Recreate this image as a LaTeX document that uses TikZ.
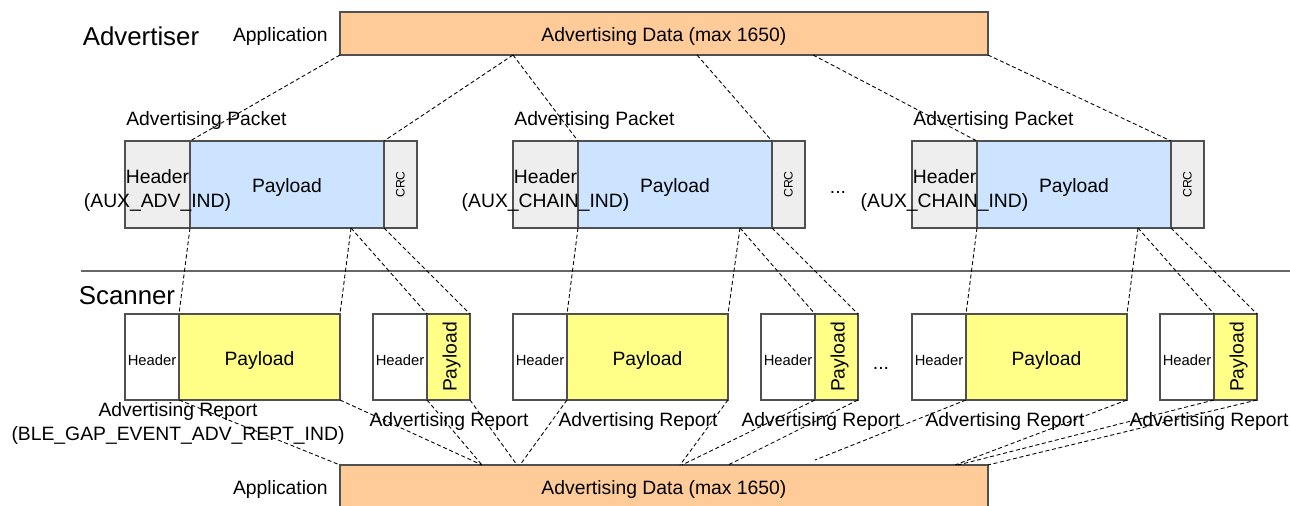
\documentclass[tikz,border=0pt]{standalone}
\usepackage{fontspec}
\setmainfont{Liberation Sans}
\usepackage{tikz}
\usetikzlibrary{positioning}

\definecolor{DataOrange}{RGB}{255,204,153}
\definecolor{PktBlue}{RGB}{204,228,255}
\definecolor{HdrGray}{RGB}{238,238,238}
\definecolor{RptYellow}{RGB}{255,255,136}
\definecolor{EdgeGray}{RGB}{80,80,80}
\definecolor{RuleGray}{RGB}{102,102,102}

\tikzset{
	cell/.style={draw=EdgeGray, line width=0.8pt, inner sep=0pt, outer sep=0pt},
	capc/.style={text height=0.92em, text depth=0pt},
	databar/.style={cell, fill=DataOrange, minimum width=12.96cm, minimum height=0.86cm, capc},
	pkthdr/.style={cell, fill=HdrGray, minimum width=1.30cm, minimum height=1.74cm},
	pktpay/.style={cell, fill=PktBlue, minimum width=3.88cm, minimum height=1.74cm, capc},
	pktcrc/.style={cell, fill=HdrGray, minimum width=0.66cm, minimum height=1.74cm},
	rpthdr/.style={cell, fill=white, minimum width=1.08cm, minimum height=1.72cm, capc, font=\fontsize{8.4}{10}\selectfont},
	rptpay/.style={cell, fill=RptYellow, minimum width=3.22cm, minimum height=1.72cm, capc},
	rptslim/.style={rptpay, minimum width=0.86cm},
	link/.style={dash pattern=on 2.3pt off 1.5pt, line width=0.5pt},
	sidelbl/.style={font=\fontsize{14.7}{17}\selectfont, inner sep=0pt},
	txt/.style={inner sep=0pt},
}

\begin{document}
\begin{tikzpicture}[x=0.02cm, y=-0.02cm, font=\fontsize{11}{13.6}\selectfont]

	% ---------------------
	% Proper size --- Bounding box
	\useasboundingbox (0,0) rectangle (1290,506);

	% ---------------------
	% Advertiser: application data
	\node[sidelbl, anchor=base] (Adv) at (141,46) {Advertiser};
	\node[databar, anchor=north west] (TopBar) at (340,12) {Advertising Data (max 1650)};
	\node[txt, capc, left=0.24cm of TopBar] (AppTop) {Application};

	\path (TopBar.south west) +(173,0) coordinate (TopCut1);
	\path (TopBar.south west) +(357,0) coordinate (TopCut2);
	\path (TopBar.south west) +(473,0) coordinate (TopCut3);

	% ---------------------
	% Advertising packets
	\node[pkthdr, anchor=north west] (Hdr1) at (125,141) {};
	\node[pktpay, right=0cm of Hdr1] (Pay1) {Payload};
	\node[pktcrc, right=0cm of Pay1] (Crc1) {};

	\node[pkthdr, anchor=north west] (Hdr2) at (513,141) {};
	\node[pktpay, right=0cm of Hdr2] (Pay2) {Payload};
	\node[pktcrc, right=0cm of Pay2] (Crc2) {};

	\node[pkthdr, anchor=north west] (Hdr3) at (912,141) {};
	\node[pktpay, right=0cm of Hdr3] (Pay3) {Payload};
	\node[pktcrc, right=0cm of Pay3] (Crc3) {};

	\node[txt, align=center, yshift=-0.12cm] (HdrTxt1) at (Hdr1) {Header\\(AUX\_ADV\_IND)};
	\node[txt, align=center, yshift=-0.12cm] (HdrTxt2) at (Hdr2) {Header\\(AUX\_CHAIN\_IND)};
	\node[txt, align=center, yshift=-0.12cm] (HdrTxt3) at (Hdr3) {Header\\(AUX\_CHAIN\_IND)};

	\node[txt, rotate=90, font=\fontsize{7}{8}\selectfont] (CrcTxt1) at (Crc1) {CRC};
	\node[txt, rotate=90, font=\fontsize{7}{8}\selectfont] (CrcTxt2) at (Crc2) {CRC};
	\node[txt, rotate=90, font=\fontsize{7}{8}\selectfont] (CrcTxt3) at (Crc3) {CRC};

	\node[txt, anchor=base west] (PktLbl1) at (126,126) {Advertising Packet};
	\node[txt, anchor=base west] (PktLbl2) at (514,126) {Advertising Packet};
	\node[txt, anchor=base west] (PktLbl3) at (913,126) {Advertising Packet};

	\node[txt, anchor=base] (DotsTop) at (838,194) {...};

	\path (Pay1.south west) +(161,0) coordinate (PayCut1);
	\path (Pay2.south west) +(162,0) coordinate (PayCut2);
	\path (Pay3.south west) +(161,0) coordinate (PayCut3);

	% ---------------------
	% Separator
	\coordinate (SepL) at (81,271);
	\coordinate (SepR) at (1290,271);
	\draw[RuleGray, line width=1.1pt] (SepL) -- (SepR);

	% ---------------------
	% Scanner: advertising reports
	\node[sidelbl, anchor=base] (Scn) at (127,304) {Scanner};

	\node[rpthdr, anchor=north west] (RHdr1) at (125,314) {Header};
	\node[rptpay, right=0cm of RHdr1] (RPay1) {Payload};
	\node[rpthdr, anchor=north west] (RHdr1b) at (373,314) {Header};
	\node[rptslim, right=0cm of RHdr1b] (RPay1b) {};

	\node[rpthdr, anchor=north west] (RHdr2) at (513,314) {Header};
	\node[rptpay, right=0cm of RHdr2] (RPay2) {Payload};
	\node[rpthdr, anchor=north west] (RHdr2b) at (761,314) {Header};
	\node[rptslim, right=0cm of RHdr2b] (RPay2b) {};

	\node[rpthdr, anchor=north west] (RHdr3) at (912,314) {Header};
	\node[rptpay, right=0cm of RHdr3] (RPay3) {Payload};
	\node[rpthdr, anchor=north west] (RHdr3b) at (1160,314) {Header};
	\node[rptslim, right=0cm of RHdr3b] (RPay3b) {};

	\node[txt, capc, rotate=90] (RPayTxt1b) at (RPay1b) {Payload};
	\node[txt, capc, rotate=90] (RPayTxt2b) at (RPay2b) {Payload};
	\node[txt, capc, rotate=90] (RPayTxt3b) at (RPay3b) {Payload};

	\node[txt, anchor=base] (DotsBot) at (881,369) {...};

	\node[txt, align=center, anchor=north] (RptLbl1) at (178,402) {Advertising Report\\(BLE\_GAP\_EVENT\_ADV\_REPT\_IND)};
	\node[txt, anchor=base] (RptLbl1b) at (449,426) {Advertising Report};
	\node[txt, anchor=base] (RptLbl2) at (638,426) {Advertising Report};
	\node[txt, anchor=base] (RptLbl2b) at (821,426) {Advertising Report};
	\node[txt, anchor=base] (RptLbl3) at (1005,426) {Advertising Report};
	\node[txt, anchor=base] (RptLbl3b) at (1209,426) {Advertising Report};

	% ---------------------
	% Scanner: application data
	\node[databar, anchor=north west] (BotBar) at (340,465) {Advertising Data (max 1650)};
	\node[txt, capc, left=0.24cm of BotBar] (AppBot) {Application};

	\path (BotBar.north west) +(142,0) coordinate (BotCut1);
	\path (BotBar.north west) +(177,0) coordinate (BotCut2);
	\path (BotBar.north west) +(180,0) coordinate (BotCut3);
	\path (BotBar.north west) +(340,0) coordinate (BotCut4);
	\path (BotBar.north west) +(342,0) coordinate (BotCut5);
	\path (BotBar.north west) +(388,0) coordinate (BotCut6);
	\path (BotBar.north west) +(475,-5) coordinate (LooseEnd);
	\path (BotBar.north west) +(615,0) coordinate (BotCut7);
	\path (BotBar.north west) +(618,0) coordinate (BotCut8);

	% ---------------------
	% Data -> packets
	\draw[link] (TopBar.south west) -- (Pay1.north west);
	\draw[link] (TopCut1) -- (Pay1.north east);
	\draw[link] (TopCut1) -- (Pay2.north west);
	\draw[link] (TopCut2) -- (Pay2.north east);
	\draw[link] (TopCut3) -- (Pay3.north west);
	\draw[link] (TopBar.south east) -- (Pay3.north east);

	% Packets -> reports
	\draw[link] (Pay1.south west) -- (RPay1.north west);
	\draw[link] (PayCut1) -- (RPay1.north east);
	\draw[link] (PayCut1) -- (RPay1b.north west);
	\draw[link] (Pay1.south east) -- (RPay1b.north east);

	\draw[link] (Pay2.south west) -- (RPay2.north west);
	\draw[link] (PayCut2) -- (RPay2.north east);
	\draw[link] (PayCut2) -- (RPay2b.north west);
	\draw[link] (Pay2.south east) -- (RPay2b.north east);

	\draw[link] (Pay3.south west) -- (RPay3.north west);
	\draw[link] (PayCut3) -- (RPay3.north east);
	\draw[link] (PayCut3) -- (RPay3b.north west);
	\draw[link] (Pay3.south east) -- (RPay3b.north east);

	% Reports -> data
	\draw[link] (RPay1.south west) -- (BotBar.north west);
	\draw[link] (RPay1.south east) -- (BotCut1);
	\draw[link] (RPay1b.south west) -- (BotCut1);
	\draw[link] (RPay1b.south east) -- (BotCut2);
	\draw[link] (RPay2.south west) -- (BotCut3);
	\draw[link] (RPay2.south east) -- (BotCut4);
	\draw[link] (RPay2b.south west) -- (BotCut5);
	\draw[link] (RPay2b.south east) -- (BotCut6);
	\draw[link] (RPay3.south west) -- (LooseEnd);
	\draw[link] (RPay3.south east) -- (BotCut7);
	\draw[link] (RPay3b.south west) -- (BotCut8);
	\draw[link] (RPay3b.south east) -- (BotBar.north east);

\end{tikzpicture}
\end{document}
